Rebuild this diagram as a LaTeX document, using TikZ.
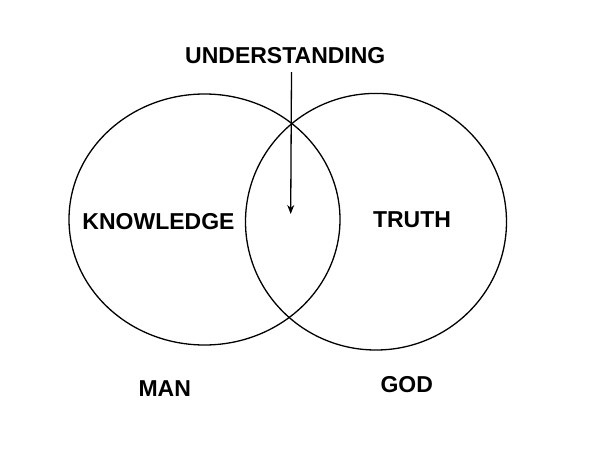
\documentclass[tikz,border=0pt]{standalone}
\usepackage{fontspec}
\setmainfont{Liberation Sans}
\usetikzlibrary{arrows.meta}
\begin{document}
\begin{tikzpicture}[x=1pt,y=-1pt,
  lbl/.style={font=\bfseries\fontsize{23}{27}\selectfont,inner sep=0pt,anchor=base},
  ring/.style={draw=black,line width=1.3pt},
  pointer/.style={draw=black,line width=1.3pt,-{Stealth[length=9pt,width=7pt]}}]
\useasboundingbox[fill=white] (0,0) rectangle (600,450);
\coordinate (cL) at (204.5,219.5);
\coordinate (cR) at (376,221.7);
\draw[ring] (cL) ellipse [x radius=135.5, y radius=125.5];
\draw[ring] (cR) ellipse [x radius=130.5, y radius=128.3];
\node[lbl] (und) at (285.3,63.3) {UNDERSTANDING};
\node[lbl] (know) at (158.5,229) {KNOWLEDGE};
\node[lbl] (truth) at (412,227.3) {TRUTH};
\node[lbl] (man) at (164.7,396) {MAN};
\node[lbl] (god) at (406.7,392.7) {GOD};
\coordinate (arrS) at (291.5,72);
\coordinate (arrE) at (290.7,214);
\draw[pointer] (arrS) -- (arrE);
\end{tikzpicture}
\end{document}
